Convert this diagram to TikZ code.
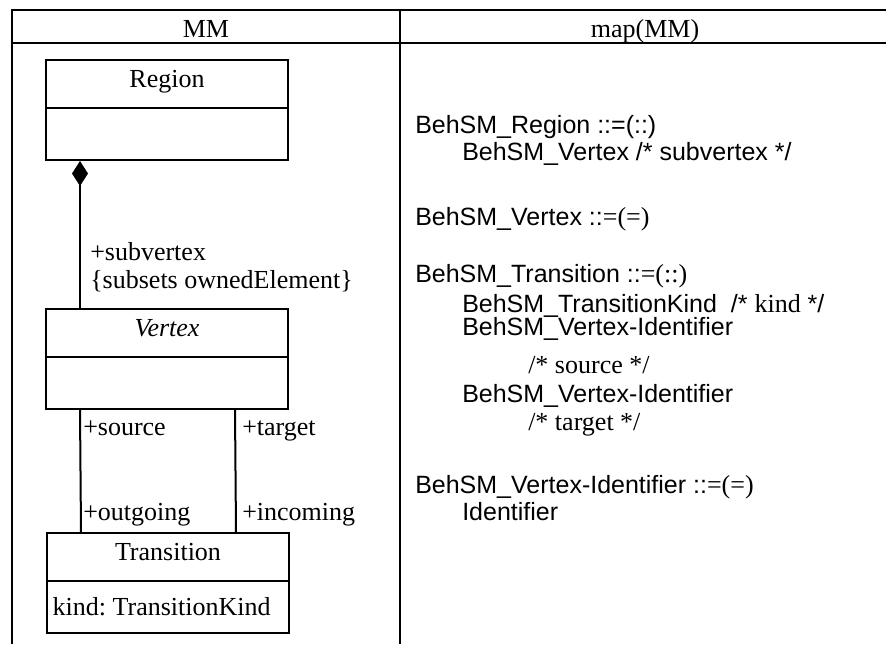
\documentclass[tikz,border=0pt]{standalone}
\usepackage{fontspec}
\setmainfont{Liberation Serif}
\newfontfamily\arialfont{Liberation Sans}
\usetikzlibrary{positioning}
\usetikzlibrary{arrows.meta}
\tikzstyle{umlhead}=[draw, line width=1.5pt, minimum width=181.5pt, minimum height=36pt, inner sep=0pt, text height=0.68em, text depth=0.22em, font=\fontsize{19.5}{24}\selectfont]
\tikzstyle{umlbody}=[draw, line width=1.5pt, minimum width=181.5pt, minimum height=39pt, inner sep=0pt]
\tikzstyle{role}=[anchor=base west, inner sep=0pt, font=\fontsize{19.5}{24}\selectfont]
\tikzstyle{code}=[anchor=base west, inner sep=0pt, font=\arialfont\fontsize{18.75}{22}\selectfont]
\tikzstyle{assoc}=[line width=1.5pt]
\tikzstyle{frame}=[line width=1.1pt]
\newcommand{\serifpart}[1]{{\rmfamily\fontsize{19.5}{22}\selectfont #1}}
\newcommand{\codeline}[4]{\node[code] (#1) at (#2,#3) {#4};} % name, x, baseline, text
\frenchspacing
\begin{document}
\begin{tikzpicture}[x=0.75pt,y=-0.75pt]
\useasboundingbox (0,0) rectangle (886,644);
% table
\draw[frame] (886,10) -- (12,10) -- (12,644);
\draw[frame] (12,43) -- (886,43);
\draw[frame] (400,10) -- (400,644);
\node[role, anchor=base] (hmm) at (206,37) {MM};
\node[role, anchor=base] (hmap) at (645,37) {map(MM)};
% metamodel
\node[umlhead, anchor=north west] (region) at (45,59) {Region};
\node[umlbody, below=-1.5pt of region] (regionbody) {};
\node[umlhead, anchor=north west] (vertex) at (45,308) {\itshape Vertex};
\node[umlbody, below=-1.5pt of vertex] (vertexbody) {};
\node[umlhead, anchor=north west] (transition) at (46,532) {Transition};
\node[umlbody, below=-1.5pt of transition, font=\fontsize{19.5}{24}\selectfont] (transitionbody) {\makebox[180pt][l]{\hspace{3.5pt}kind: TransitionKind}};
\draw[assoc, {Diamond[length=18.75pt,width=12pt]}-] ([xshift=26.25pt]regionbody.south west) -- ([xshift=26.25pt]vertex.north west);
\draw[assoc] ([xshift=26.25pt]vertexbody.south west) -- ([xshift=26.25pt]transition.north west);
\draw[assoc] ([xshift=142.5pt]vertexbody.south west) -- ([xshift=142.5pt]transition.north west);
\node[role] (subv) at (90,260) {+subvertex};
\node[role] (subset) at (90,288) {\{subsets ownedElement\}};
\node[role] (src) at (83,435) {+source};
\node[role] (tgt) at (242,435) {+target};
\node[role] (outg) at (83,520) {+outgoing};
\node[role] (inc) at (242,520) {+incoming};
% mapping
\codeline{rregion}{415}{133}{BehSM\_Region ::=(::)}
\codeline{rregsub}{462}{160}{BehSM\_Vertex /* subvertex */}
\codeline{rvertex}{415}{225}{BehSM\_Vertex ::\serifpart{=(=)}}
\codeline{rtrans}{415}{282}{BehSM\_Transition ::\serifpart{=(::)}}
\codeline{rtkind}{462}{312}{BehSM\_TransitionKind\ \ /* \serifpart{kind} */}
\codeline{rsrcid}{462}{335}{BehSM\_Vertex-Identifier}
\codeline{rsrc}{528}{373}{\serifpart{/* source */}}
\codeline{rtgtid}{462}{402}{BehSM\_Vertex-Identifier}
\codeline{rtgt}{528}{430}{\serifpart{/* target */}}
\codeline{rvid}{415}{493}{BehSM\_Vertex-Identifier ::\serifpart{=(=)}}
\codeline{rident}{462}{520}{Identifier}
\end{tikzpicture}
\end{document}
